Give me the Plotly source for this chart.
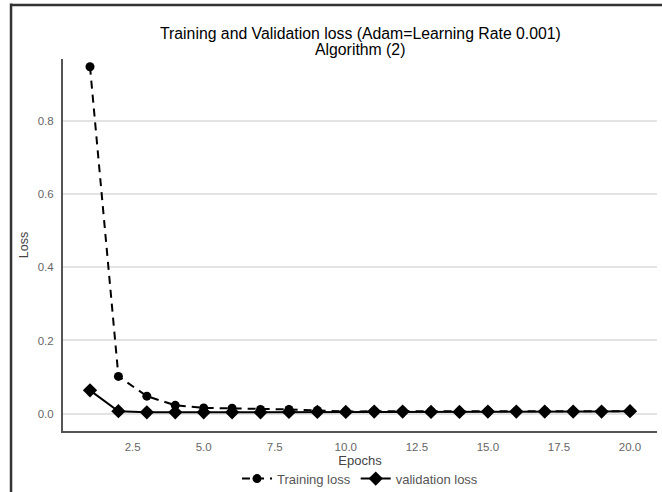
import plotly.graph_objects as go

epochs = list(range(1, 21))
training_loss = [0.947, 0.102, 0.048, 0.023, 0.016, 0.015, 0.012, 0.012, 0.009, 0.006,
                 0.007, 0.007, 0.006, 0.006, 0.007, 0.007, 0.007, 0.006, 0.007, 0.007]
validation_loss = [0.064, 0.007, 0.004, 0.004, 0.004, 0.004, 0.004, 0.005, 0.005, 0.005,
                   0.006, 0.006, 0.005, 0.005, 0.006, 0.006, 0.006, 0.006, 0.006, 0.007]
x_tickvals = [2.5, 5.0, 7.5, 10.0, 12.5, 15.0, 17.5, 20.0]
x_ticktext = ["2.5", "5.0", "7.5", "10.0", "12.5", "15.0", "17.5", "20.0"]
y_tickvals = [0.0, 0.2, 0.4, 0.6, 0.8]
y_ticktext = ["0.0", "0.2", "0.4", "0.6", "0.8"]
title_lines = ["Training and Validation loss (Adam=Learning Rate 0.001)", "Algorithm (2)"]

FONT = "Liberation Sans, Arial, sans-serif"

fig = go.Figure()
fig.add_trace(go.Scatter(
    x=epochs, y=training_loss, name="Training loss", mode="lines+markers",
    line=dict(color="black", width=2, dash="8px,6px"),
    marker=dict(symbol="circle", size=9, color="black"),
))
fig.add_trace(go.Scatter(
    x=epochs, y=validation_loss, name="validation loss", mode="lines+markers",
    line=dict(color="black", width=2),
    marker=dict(symbol="diamond", size=11, color="black"),
))

fig.update_layout(
    width=662, height=492,
    margin=dict(l=63, r=5, t=59, b=61, autoexpand=False),
    paper_bgcolor="white", plot_bgcolor="white",
    font=dict(family=FONT, color="#333333"),
    xaxis=dict(
        range=[0.05, 20.95], tickvals=x_tickvals, ticktext=x_ticktext, automargin=False,
        showgrid=False, zeroline=False, showline=True, linecolor="#555555", linewidth=2,
        ticks="", ticklabelstandoff=4, tickfont=dict(size=11.5, color="#666666"),
        title=dict(text="Epochs", font=dict(size=13, color="#444444"), standoff=2),
    ),
    yaxis=dict(
        range=[-0.047, 0.968], tickvals=y_tickvals, ticktext=y_ticktext, automargin=False,
        showgrid=True, gridcolor="#e3e3e3", gridwidth=1.8, zeroline=False,
        showline=True, linecolor="#555555", linewidth=2,
        ticks="", ticklabelstandoff=5, tickfont=dict(size=11.5, color="#666666"),
        title=dict(text="Loss", font=dict(size=12.5, color="#444444"), standoff=6),
    ),
    legend=dict(
        orientation="h", x=0.5, xanchor="center", y=-0.128, yanchor="middle",
        font=dict(size=13, color="#555555"), bgcolor="rgba(0,0,0,0)",
        itemwidth=30, tracegroupgap=0,
    ),
    showlegend=True,
)

# two-line title
for i, (txt, ypix) in enumerate(zip(title_lines, [33, 49])):
    fig.add_annotation(
        text=txt, xref="paper", yref="paper", x=0.5, xanchor="center",
        y=(431 - ypix) / 372, yanchor="middle", showarrow=False,
        font=dict(size=15.8, color="black", family=FONT),
    )

# image frame (left and top borders)
fig.add_shape(type="line", xref="paper", yref="paper", x0=-0.0875, x1=-0.0875, y0=-0.2, y1=1.149,
              line=dict(color="#333333", width=2.5))
fig.add_shape(type="line", xref="paper", yref="paper", x0=-0.0875, x1=1.02, y0=1.1452, y1=1.1452,
              line=dict(color="#333333", width=2.5))

fig.write_html("out.html")
